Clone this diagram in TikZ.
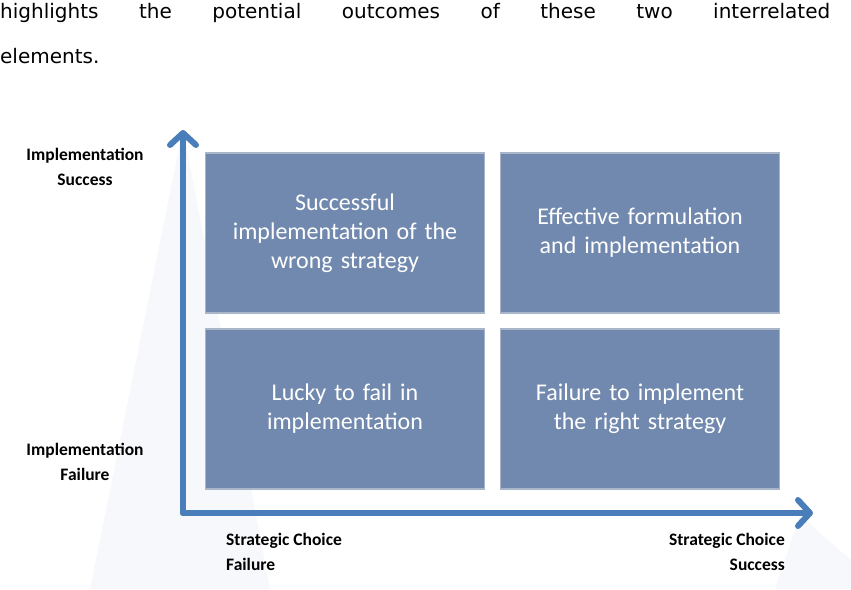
\documentclass[tikz,border=0pt]{standalone}
\usepackage{fontspec}
\setmainfont{Carlito}
\newfontfamily\verd{DejaVu Sans}
\usetikzlibrary{arrows.meta}
\definecolor{boxfill}{HTML}{7189AE}
\definecolor{boxline}{HTML}{A9B5C9}
\definecolor{axis}{HTML}{4A7EBB}
\definecolor{ghost}{HTML}{F7F8FB}
\tikzset{
  quad/.style={draw=boxline,line width=1.5pt,fill=boxfill,minimum width=279pt,minimum height=160pt,
    text=white,font=\fontsize{24}{29}\selectfont,align=center,text width=270pt,inner sep=0pt},
  axlab/.style={font=\bfseries\fontsize{17.5}{25}\selectfont,inner sep=0pt},
  axisline/.style={draw=axis,line width=6pt,line cap=round,line join=round,
    -{Straight Barb[length=12pt,width=26pt,line width=6pt,round]}}
}
\begin{document}
\begin{tikzpicture}[x=1pt,y=-1pt]
\useasboundingbox (0,0) rectangle (851,589);
\fill[ghost] (183,128) -- (90,589) -- (270,589) -- cycle;
\fill[ghost] (800,515) -- (775,589) -- (851,589) -- (851,560) -- cycle;
\node[anchor=base west,inner sep=0pt,text width=830pt,font=\verd\fontsize{20}{45}\selectfont] (top) at (0,18)
 {highlights\hfill the\hfill potential\hfill outcomes\hfill of\hfill these\hfill two\hfill interrelated\\elements.};
\node[quad] (q1) at (345,233) {Successful\\implementation of the\\wrong strategy};
\node[quad] (q2) at (640,233) {Effective formulation\\and implementation};
\node[quad] (q3) at (345,409) {Lucky to fail in\\implementation};
\node[quad] (q4) at (640,409) {Failure to implement\\the right strategy};
\coordinate (o) at (183,513);
\coordinate (ytip) at (183,130);
\coordinate (xtip) at (813,513);
\draw[axisline] (o) -- (ytip);
\draw[axisline] (o) -- (xtip);
\node[axlab,align=center] (ys) at (85,167) {Implementation\\Success};
\node[axlab,align=center] (yf) at (85,462) {Implementation\\Failure};
\node[axlab,align=left,anchor=north west] (xf) at (226,533) {Strategic Choice\\Failure};
\node[axlab,align=right,anchor=north east] (xs) at (785,533) {Strategic Choice\\Success};
\end{tikzpicture}
\end{document}
